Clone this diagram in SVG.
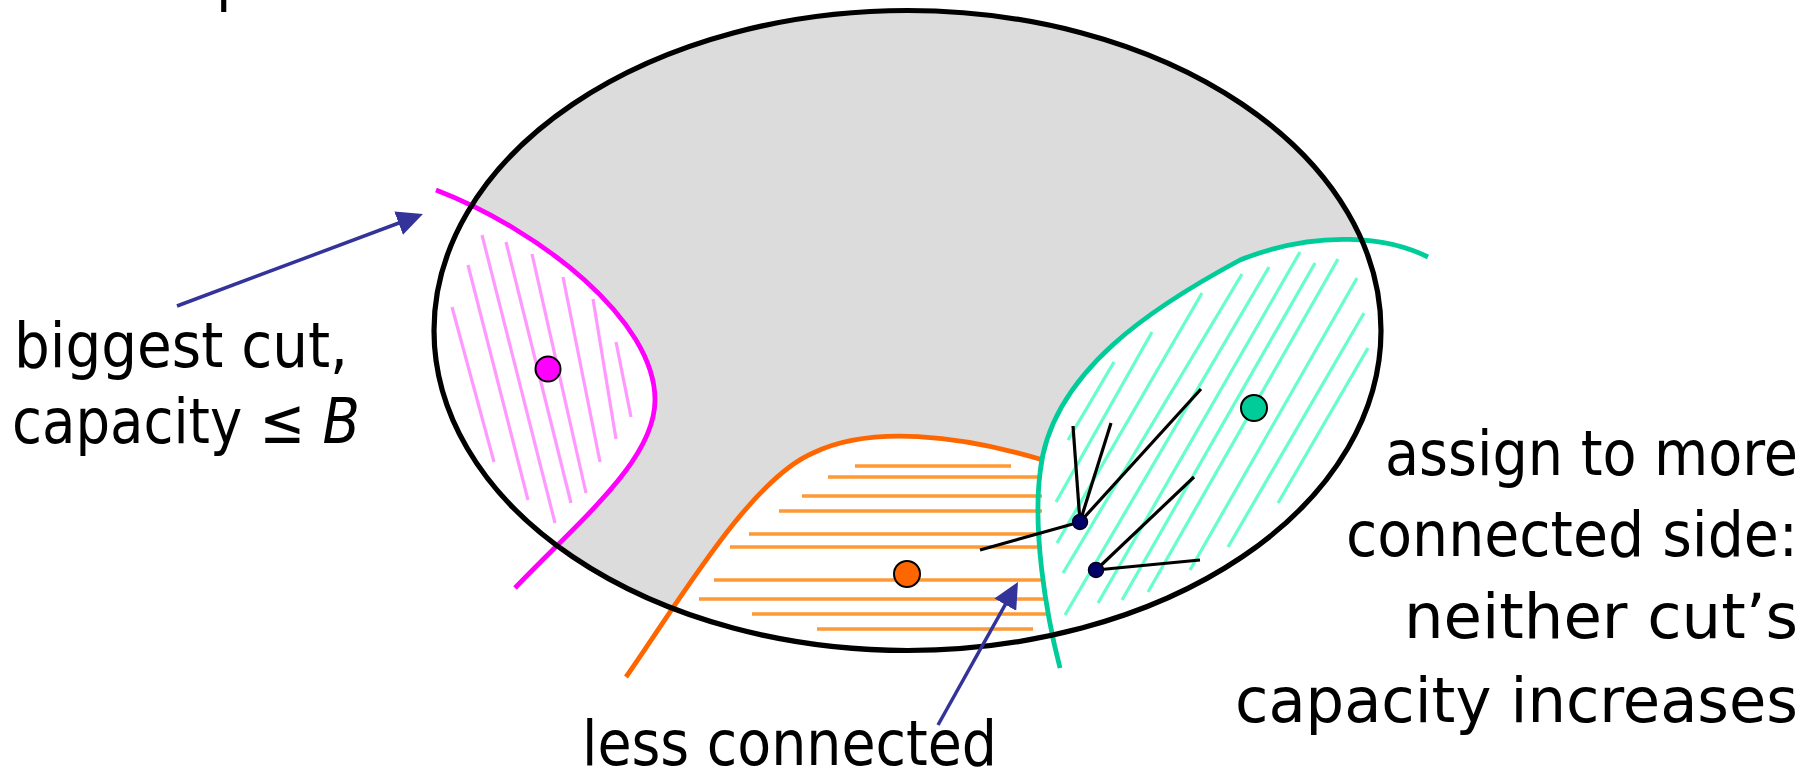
<svg xmlns="http://www.w3.org/2000/svg" width="1820" height="773" viewBox="0 0 1820 773">
  <style>
    .lbl { font-family: "DejaVu Sans Condensed", "DejaVu Sans", "Liberation Sans", sans-serif; font-size: 63px; fill: #000; }
    .end { text-anchor: end; }
    .cut { fill: none; stroke-width: 4.8; stroke-linecap: butt; }
    .hatch-m line { stroke: #FF99FF; stroke-width: 3.2; }
    .hatch-o line { stroke: #FF9933; stroke-width: 3.4; }
    .hatch-t line { stroke: #66FFCC; stroke-width: 3.2; }
    .edge { stroke: #000; stroke-width: 3.2; }
    .vtx { fill: #000066; stroke: #000022; stroke-width: 1.5; }
    .dot { stroke: #000; stroke-width: 2; }
    .ptr { stroke: #333399; stroke-width: 3.5; fill: none; }
  </style>
  <defs>
    <clipPath id="inside">
      <ellipse cx="907.5" cy="330.5" rx="473.5" ry="320"/>
    </clipPath>
    <marker id="head" viewBox="0 0 26 25" refX="16" refY="12.5" markerWidth="26" markerHeight="25" markerUnits="userSpaceOnUse" orient="auto">
      <path d="M0,0 L26,12.5 L0,25 Z" fill="#333399"/>
    </marker>
  </defs>

  <!-- cut-off title glyph at the top edge -->
  <text class="lbl" x="216" y="-1">p</text>

  <!-- the graph region -->
  <g id="graph">
    <ellipse cx="907.5" cy="330.5" rx="473.5" ry="320" fill="#DCDCDC"/>
  </g>

  <!-- left side: biggest cut -->
  <g id="cut-left" clip-path="url(#inside)">
    <path d="M436,190 C540,230 655,320 655,400 C655,460 580,520 515,588 L360,588 L360,190 Z" fill="#fff"/>
  </g>
  <!-- bottom: less connected side -->
  <g id="cut-bottom" clip-path="url(#inside)">
    <path d="M626,677 C680,600 750,480 813,453 C870,425 960,435 1043,460 L1100,460 L1100,700 L600,700 Z" fill="#fff"/>
  </g>
  <!-- right: more connected side -->
  <g id="cut-right" clip-path="url(#inside)">
    <path d="M1428,257 C1390,238 1320,228 1240,260 C1160,303 1050,370 1040,473 C1033,530 1045,610 1060,668 L1500,700 L1500,257 Z" fill="#fff"/>
  </g>

  <g id="hatch-left" class="hatch-m">
    <line x1="452" y1="307" x2="494" y2="462"/>
    <line x1="468" y1="265" x2="528" y2="500"/>
    <line x1="482" y1="235" x2="555" y2="523"/>
    <line x1="506" y1="242" x2="571" y2="503"/>
    <line x1="532" y1="254" x2="586" y2="493"/>
    <line x1="563" y1="277" x2="600" y2="462"/>
    <line x1="593" y1="299" x2="616" y2="439"/>
    <line x1="616" y1="342" x2="631" y2="417"/>
  </g>

  <g id="hatch-bottom" class="hatch-o">
    <line x1="855" y1="466" x2="1011" y2="466"/>
    <line x1="828" y1="477" x2="1042" y2="477"/>
    <line x1="802" y1="496" x2="1042" y2="496"/>
    <line x1="779" y1="511" x2="1042" y2="511"/>
    <line x1="749" y1="534" x2="1042" y2="534"/>
    <line x1="730" y1="547" x2="1042" y2="547"/>
    <line x1="714" y1="580" x2="1044" y2="580"/>
    <line x1="699" y1="599" x2="1046" y2="599"/>
    <line x1="752" y1="614" x2="1048" y2="614"/>
    <line x1="817" y1="629" x2="1033" y2="629"/>
  </g>

  <g id="hatch-right" class="hatch-t">
    <line x1="1114" y1="362" x2="1068" y2="440"/>
    <line x1="1152" y1="332" x2="1056" y2="502"/>
    <line x1="1202" y1="293" x2="1057" y2="543"/>
    <line x1="1242" y1="274" x2="1063" y2="573"/>
    <line x1="1269" y1="267" x2="1065" y2="615"/>
    <line x1="1300" y1="252" x2="1098" y2="603"/>
    <line x1="1315" y1="263" x2="1122" y2="600"/>
    <line x1="1338" y1="259" x2="1148" y2="592"/>
    <line x1="1357" y1="278" x2="1190" y2="570"/>
    <line x1="1364" y1="313" x2="1228" y2="547"/>
    <line x1="1368" y1="348" x2="1278" y2="503"/>
  </g>

  <!-- cut boundaries -->
  <g id="cuts">
    <path class="cut" stroke="#FF00FF" d="M436,190 C540,230 655,320 655,400 C655,460 580,520 515,588"/>
    <path class="cut" stroke="#FF6600" d="M626,677 C680,600 750,480 813,453 C870,425 960,435 1043,460"/>
    <path class="cut" stroke="#00CC99" d="M1428,257 C1390,238 1320,228 1240,260 C1160,303 1050,370 1040,473 C1033,530 1045,610 1060,668"/>
  </g>

  <ellipse id="graph-outline" cx="907.5" cy="330.5" rx="473.5" ry="320" fill="none" stroke="#000" stroke-width="5.2"/>

  <!-- edges of the two boundary vertices, plus the pointer arrows -->
  <g id="connectors">
    <line class="edge" x1="1080" y1="522" x2="1073" y2="426"/>
    <line class="edge" x1="1080" y1="522" x2="1111" y2="423"/>
    <line class="edge" x1="1080" y1="522" x2="1201" y2="389"/>
    <line class="edge" x1="1080" y1="522" x2="980" y2="550"/>
    <line class="edge" x1="1096" y1="570" x2="1194" y2="477"/>
    <line class="edge" x1="1096" y1="570" x2="1200" y2="560"/>
    <line class="ptr" x1="177" y1="306" x2="413.6" y2="217.5" marker-end="url(#head)"/>
    <line class="ptr" x1="938" y1="725" x2="1013.1" y2="590.7" marker-end="url(#head)"/>
  </g>

  <g id="vertex-a"><circle class="vtx" cx="1080" cy="522" r="7.5"/></g>
  <g id="vertex-b"><circle class="vtx" cx="1096" cy="570" r="7.5"/></g>
  <g id="seed-left"><circle class="dot" cx="548" cy="369" r="12.5" fill="#FF00FF"/></g>
  <g id="seed-bottom"><circle class="dot" cx="907" cy="574" r="13" fill="#FF6600"/></g>
  <g id="seed-right"><circle class="dot" cx="1254" cy="408" r="13" fill="#00CC99"/></g>

  <g id="label-left">
    <text class="lbl" x="14" y="367" textLength="334" lengthAdjust="spacingAndGlyphs">biggest cut,</text>
    <text class="lbl" x="12" y="443" textLength="348" lengthAdjust="spacingAndGlyphs">capacity ≤ <tspan font-style="italic">B</tspan></text>
  </g>
  <g id="label-bottom">
    <text class="lbl" x="582" y="765" textLength="415" lengthAdjust="spacingAndGlyphs">less connected</text>
  </g>
  <g id="label-right">
    <text class="lbl end" x="1798" y="475" textLength="413" lengthAdjust="spacingAndGlyphs">assign to more</text>
    <text class="lbl end" x="1798" y="556" textLength="452" lengthAdjust="spacingAndGlyphs">connected side:</text>
    <text class="lbl end" x="1798" y="638" textLength="394" lengthAdjust="spacingAndGlyphs">neither cut’s</text>
    <text class="lbl end" x="1798" y="722" textLength="563" lengthAdjust="spacingAndGlyphs">capacity increases</text>
  </g>
</svg>
